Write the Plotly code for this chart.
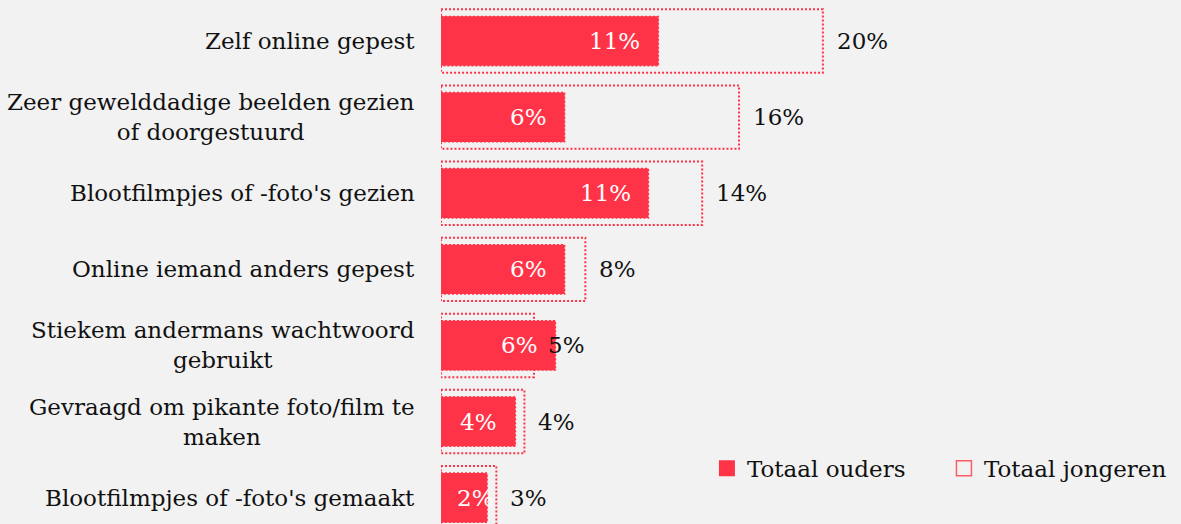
import plotly.graph_objects as go

categories = [
    "Zelf online gepest",
    "Zeer gewelddadige beelden gezien<br>of doorgestuurd",
    "Blootfilmpjes of -foto's gezien",
    "Online iemand anders gepest",
    "Stiekem andermans wachtwoord<br>gebruikt",
    "Gevraagd om pikante foto/film te<br>maken",
    "Blootfilmpjes of -foto's gemaakt",
]
ouders = [11.39, 6.48, 10.87, 6.48, 6.0, 3.9, 2.42]
jongeren = [20.0, 15.61, 13.68, 7.56, 4.87, 4.37, 2.9]
ouders_labels = ["11%", "6%", "11%", "6%", "6%", "4%", "2%"]
jongeren_labels = ["20%", "16%", "14%", "8%", "5%", "4%", "3%"]

RED = "#FF3347"
BG = "#F2F2F2"
FONT = "DejaVu Serif"
FS = 23
W_J = 0.833
W_O = 0.65
PX_PER_UNIT = 19.17
PLOT_W = 740

ypos = list(range(len(categories)))

fig = go.Figure()
fig.add_trace(go.Bar(
    y=ypos, x=jongeren, orientation="h", width=W_J, name="Totaal jongeren",
    marker=dict(color="rgba(0,0,0,0)", line=dict(width=0)),
    showlegend=False, hoverinfo="x",
))
fig.add_trace(go.Bar(
    y=ypos, x=ouders, orientation="h", width=W_O, name="Totaal ouders",
    marker=dict(color=RED, line=dict(width=0)), showlegend=False, hoverinfo="x",
))
# legend entries
fig.add_trace(go.Scatter(
    x=[None], y=[None], mode="markers", name="Totaal ouders", legendrank=1,
    marker=dict(symbol="square", size=17, color=RED, line=dict(width=0)),
))
fig.add_trace(go.Scatter(
    x=[None], y=[None], mode="markers", name="Totaal jongeren", legendrank=2,
    marker=dict(symbol="square-open", size=15, color="rgba(255,51,71,0.8)", line=dict(width=1.5)),
))

shapes = []
for i, v in enumerate(jongeren):
    shapes.append(dict(type="rect", xref="x", yref="y", x0=0, x1=v,
                       y0=i - W_J / 2, y1=i + W_J / 2, layer="below",
                       line=dict(color=RED, width=2, dash="2px,2px"),
                       fillcolor="rgba(0,0,0,0)"))
for i, v in enumerate(ouders):
    shapes.append(dict(type="rect", xref="x", yref="y", x0=0, x1=v,
                       y0=i - W_O / 2, y1=i + W_O / 2, layer="above",
                       line=dict(color=RED, width=1.3, dash="2px,2px"),
                       fillcolor="rgba(0,0,0,0)"))

annotations = []
for i, c in enumerate(categories):
    annotations.append(dict(xref="paper", yref="y", x=0, y=i, xanchor="right",
                            yanchor="middle", xshift=-24, text=c, align="center",
                            showarrow=False, font=dict(family=FONT, size=FS, color="#111111")))
for i, (v, t) in enumerate(zip(ouders, ouders_labels)):
    if v * PX_PER_UNIT >= 70:
        annotations.append(dict(xref="x", yref="y", x=v, y=i, xanchor="right",
                                yanchor="middle", xshift=-16, text=t, showarrow=False,
                                font=dict(family=FONT, size=FS, color="#FFFFFF")))
    else:  # too short: keep the label at the bar start
        annotations.append(dict(xref="x", yref="y", x=0, y=i, xanchor="left",
                                yanchor="middle", xshift=14, text=t, showarrow=False,
                                font=dict(family=FONT, size=FS, color="#FFFFFF")))
for i, (v, t) in enumerate(zip(jongeren, jongeren_labels)):
    annotations.append(dict(xref="x", yref="y", x=v, y=i, xanchor="left",
                            yanchor="middle", xshift=12, text=t, showarrow=False,
                            font=dict(family=FONT, size=FS, color="#111111")))

fig.update_layout(
    width=1181, height=524,
    margin=dict(l=441, r=0, t=3, b=0),
    paper_bgcolor=BG, plot_bgcolor=BG,
    barmode="overlay",
    font=dict(family=FONT, size=FS, color="#111111"),
    xaxis=dict(range=[0, PLOT_W / PX_PER_UNIT], visible=False, fixedrange=True),
    yaxis=dict(range=[6.346, -0.5], visible=False, fixedrange=True),
    shapes=shapes, annotations=annotations,
    showlegend=True,
    legend=dict(orientation="h", x=1.004, xanchor="right", y=0.107, yanchor="middle",
                bgcolor="rgba(0,0,0,0)", font=dict(family=FONT, size=FS, color="#111111"),
                itemwidth=30, entrywidth=192),
)

fig.write_html("out.html", config={"displayModeBar": False},
               post_script="document.body.style.margin='0';")
